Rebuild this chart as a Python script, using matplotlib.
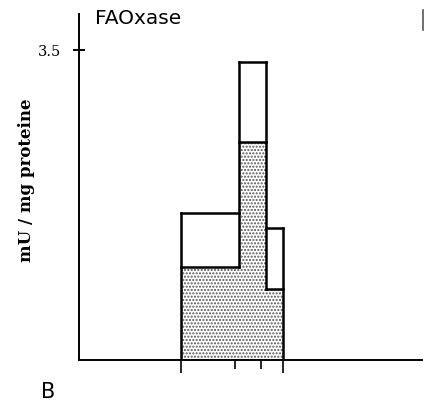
import matplotlib
matplotlib.use('Agg')
import matplotlib.pyplot as plt
from matplotlib.lines import Line2D

# FAOxase activity per fraction (mU/mg proteine)
edges = [29.7, 46.6, 54.5, 59.5]          # fraction boundaries
total = [1.66, 3.36, 1.49]                 # open bar tops
shaded = [1.05, 2.46, 0.80]                # stippled part
outer_ticks = [29.7, 59.5]
inner_ticks = [45.5, 53.1]
yticks = [3.5]
ytick_labels = ['3.5']

fig = plt.figure(figsize=(4.25, 4.10), dpi=100)
ax = fig.add_axes([79/425, 49/410, 343/425, 346/410])

lefts = edges[:-1]
widths = [b - a for a, b in zip(edges[:-1], edges[1:])]

# stipple fill, no edges so neighbouring fractions merge
ax.bar(lefts, shaded, width=widths, align='edge', facecolor='white',
       edgecolor='#555555', hatch='.....', linewidth=0, zorder=2)

lw = 1.8
# tops of open and shaded parts
for l, w, t, s in zip(lefts, widths, total, shaded):
    ax.plot([l, l + w], [t, t], color='black', linewidth=lw, zorder=3,
            solid_capstyle='projecting')
    ax.plot([l, l + w], [s, s], color='black', linewidth=lw, zorder=3,
            solid_capstyle='projecting')
# outer sides
ax.plot([edges[0], edges[0]], [0, total[0]], color='black', linewidth=lw, zorder=3)
ax.plot([edges[-1], edges[-1]], [0, total[-1]], color='black', linewidth=lw, zorder=3)
# dividers only where one side is not stippled
for i in range(1, len(edges) - 1):
    top = max(total[i - 1], total[i])
    bot = min(shaded[i - 1], shaded[i])
    ax.plot([edges[i], edges[i]], [bot, top], color='black', linewidth=lw, zorder=3)

ax.set_xlim(0, 100)
ax.set_ylim(0, 3.906)

for s in ['top', 'right']:
    ax.spines[s].set_visible(False)
ax.spines['left'].set_linewidth(1.4)
ax.spines['bottom'].set_linewidth(1.4)

ax.set_yticks(yticks)
ax.set_yticklabels(ytick_labels, family='DejaVu Serif', fontsize=10.5)
ax.tick_params(axis='y', direction='inout', length=8, width=1.4, pad=9)

ax.set_xticks(outer_ticks)
ax.set_xticklabels([])
ax.tick_params(axis='x', which='major', direction='out', length=9, width=1.2)
ax.set_xticks(inner_ticks, minor=True)
ax.tick_params(axis='x', which='minor', direction='inout', length=13, width=1.2)

fig.text(95/425, 1 - 18/410, 'FAOxase', fontsize=14.5, va='center', ha='left')
fig.text(27/425, 1 - 180/410, 'mU / mg proteine', rotation=90, fontsize=12,
         family='DejaVu Serif', fontweight='bold', va='center', ha='center')
fig.text(48/425, 1 - 392/410, 'B', fontsize=15, va='center', ha='center')

fig.add_artist(Line2D([423/425, 423/425], [1 - 11/410, 1 - 31/410],
                      color='#555555', linewidth=1.2))

fig.savefig('out.png', dpi=100)
